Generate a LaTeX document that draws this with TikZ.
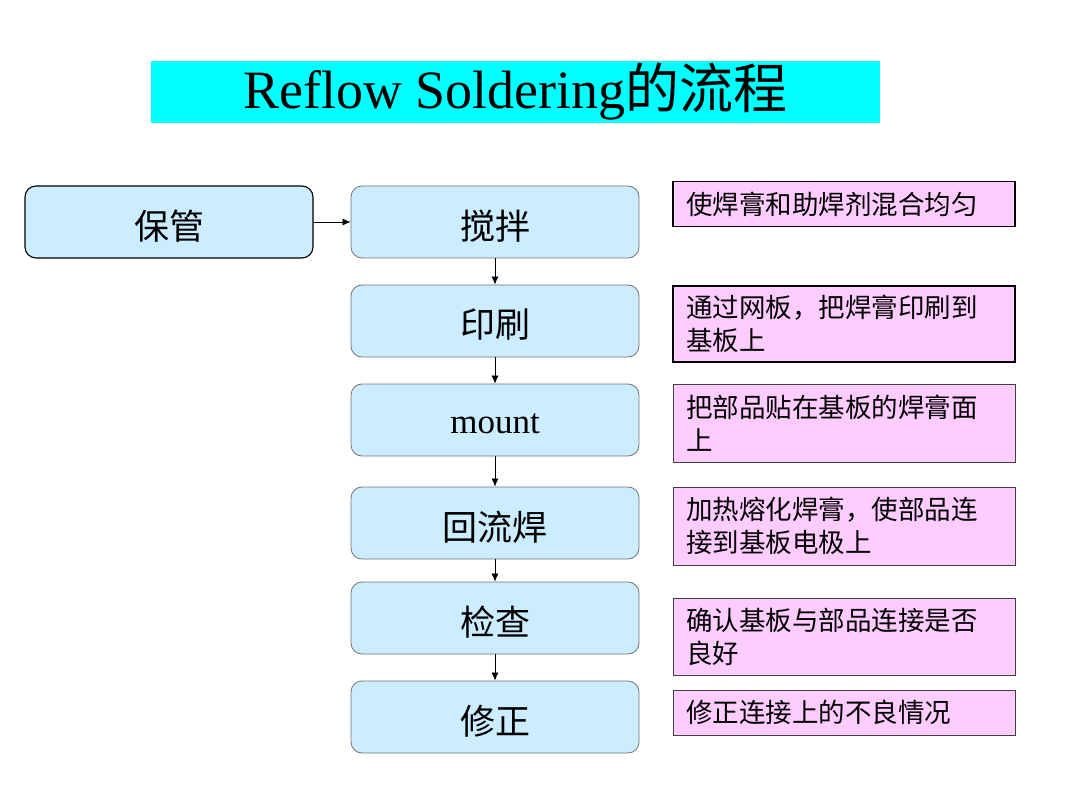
\documentclass[tikz,border=0pt]{standalone}
\usepackage{fontspec}
\setmainfont{Liberation Serif}
\newfontfamily\cjk{Noto Sans CJK SC}
\usetikzlibrary{arrows.meta}
\definecolor{boxblue}{HTML}{CCECFF}
\definecolor{boxpink}{HTML}{FFCCFF}
\definecolor{titlecyan}{HTML}{00FFFF}
\newcommand\steptxt[1]{\raisebox{-4pt}[\height][\depth]{#1}}
\tikzset{
  stepbox/.style={draw=black!55, line width=0.8pt, fill=boxblue, rounded corners=11pt,
    minimum width=288pt, minimum height=72pt, inner sep=0pt,
    font=\fontsize{35}{40}\selectfont\cjk},
  notebox/.style={draw=black!75, line width=1pt, fill=boxpink,
    minimum width=342pt, inner xsep=13pt, inner ysep=0pt, text width=316pt, align=left,
    font=\fontsize{26.5}{33}\selectfont\cjk},
  flowarrow/.style={-{Latex[length=8pt,width=7pt]}, line width=0.7pt, black}
}
\begin{document}
\begin{tikzpicture}[x=1pt,y=-1pt]
\useasboundingbox (0,0) rectangle (1077,805);
% title
\node[fill=titlecyan, minimum width=729pt, minimum height=62pt, inner sep=0pt,
  font=\fontsize{54}{58}\selectfont] (title) at (515.5,92)
  {Reflow Soldering{\cjk 的流程}};
% left box
\node[stepbox, draw=black, line width=1.1pt] (keep) at (169,222) {\steptxt{保管}};
% column
\node[stepbox] (mix) at (495,222) {\steptxt{搅拌}};
\node[stepbox] (print) at (495,321) {\steptxt{印刷}};
\node[stepbox, font=\fontsize{35}{40}\selectfont] (mount) at (495,420) {\steptxt{mount}};
\node[stepbox] (reflow) at (495,523) {\steptxt{回流焊}};
\node[stepbox] (check) at (495,618) {\steptxt{检查}};
\node[stepbox] (fix) at (495,717) {\steptxt{修正}};
% arrows
\draw[flowarrow] (keep.east) -- (mix.west);
\draw[flowarrow] (mix.south) -- (print.north);
\draw[flowarrow] (print.south) -- (mount.north);
\draw[flowarrow] (mount.south) -- (reflow.north);
\draw[flowarrow] (reflow.south) -- (check.north);
\draw[flowarrow] (check.south) -- (fix.north);
% notes
\node[notebox, draw=black, line width=1.2pt, minimum height=45pt] (n1) at (844,204) {使焊膏和助焊剂混合均匀};
\node[notebox, draw=black, line width=1.2pt, minimum height=76pt] (n2) at (844,324) {通过网板，把焊膏印刷到\\基板上};
\node[notebox, minimum height=78pt] (n3) at (844,423) {把部品贴在基板的焊膏面\\上};
\node[notebox, minimum height=78pt] (n4) at (844,526) {加热熔化焊膏，使部品连\\接到基板电极上};
\node[notebox, minimum height=77pt] (n5) at (844,636.5) {确认基板与部品连接是否\\良好};
\node[notebox, minimum height=45pt] (n6) at (844,712.5) {修正连接上的不良情况};
\end{tikzpicture}
\end{document}
